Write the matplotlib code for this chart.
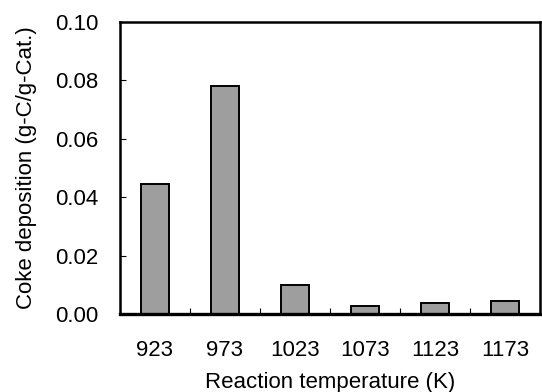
import matplotlib.pyplot as plt
import numpy as np

temps = ["923", "973", "1023", "1073", "1123", "1173"]
coke = [0.0445, 0.078, 0.0099, 0.0026, 0.0036, 0.0046]

plt.rcParams["font.family"] = ["Liberation Sans", "DejaVu Sans"]

fig = plt.figure(figsize=(5.42, 3.92), dpi=100)
ax = fig.add_axes([0.2214, 0.199, 0.7749, 0.745])

x = np.arange(len(temps))
ax.bar(x, coke, width=0.4, color="#9e9e9e", edgecolor="black", linewidth=1.4, zorder=2)

ax.set_xlim(-0.5, len(temps) - 0.5)
ax.set_ylim(0, 0.10)
ax.set_xticks(x)
ax.set_xticklabels(temps)
ax.set_xticks(x[:-1] + 0.5, minor=True)
ax.set_yticks(np.arange(0, 0.101, 0.02))
ax.set_yticklabels([f"{v:.2f}" for v in np.arange(0, 0.101, 0.02)])

ax.tick_params(axis="x", which="major", length=0, pad=19, labelsize=16)
ax.tick_params(axis="x", which="minor", direction="in", length=4, width=0.8)
ax.tick_params(axis="y", direction="in", length=4, width=0.8, pad=15.5, labelsize=16)

for side in ["left", "top", "right"]:
    ax.spines[side].set_linewidth(1.8)
ax.spines["bottom"].set_linewidth(2.4)

ax.set_xlabel("Reaction temperature (K)", fontsize=16, labelpad=8)
ax.set_ylabel("Coke deposition (g-C/g-Cat.)", fontsize=16, labelpad=13)

fig.savefig("out.png", dpi=100)
